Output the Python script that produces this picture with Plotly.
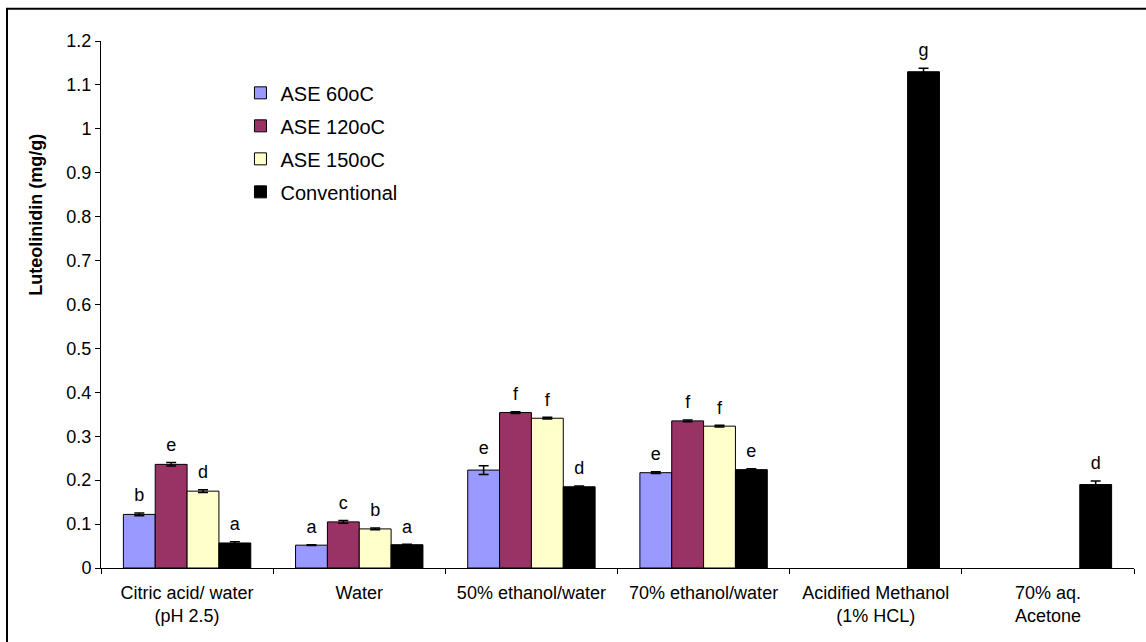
import plotly.graph_objects as go

categories = [
    "Citric acid/ water<br>(pH 2.5)",
    "Water",
    "50% ethanol/water",
    "70% ethanol/water",
    "Acidified Methanol<br>(1% HCL)",
    "70% aq.<br>Acetone",
]

series_names = ["ASE 60oC", "ASE 120oC", "ASE 150oC", "Conventional"]

ase60 = [0.122, 0.052, 0.223, 0.217, None, None]
ase120 = [0.236, 0.105, 0.354, 0.335, None, None]
ase150 = [0.175, 0.089, 0.341, 0.323, None, None]
conventional = [0.057, 0.053, 0.185, 0.224, 1.130, 0.190]

ase60_err = [0.003, 0.001, 0.010, 0.002, None, None]
ase120_err = [0.004, 0.003, 0.002, 0.002, None, None]
ase150_err = [0.003, 0.002, 0.002, 0.002, None, None]
conventional_err = [0.003, 0.001, 0.002, 0.002, 0.008, 0.008]

ase60_letters = ["b", "a", "e", "e", "", ""]
ase120_letters = ["e", "c", "f", "f", "", ""]
ase150_letters = ["d", "b", "f", "f", "", ""]
conventional_letters = ["a", "a", "d", "e", "g", "d"]

colors = ["#9999FF", "#993366", "#FFFFCC", "#000000"]

values = [ase60, ase120, ase150, conventional]
errors = [ase60_err, ase120_err, ase150_err, conventional_err]
letters = [ase60_letters, ase120_letters, ase150_letters, conventional_letters]

y_title = "Luteolinidin (mg/g)"

FONT = "Liberation Sans, Arial, sans-serif"

fig = go.Figure()

for i, name in enumerate(series_names):
    fig.add_trace(go.Bar(
        x=categories,
        y=values[i],
        name=name,
        offsetgroup=str(i),
        legendgroup=str(i),
        marker=dict(color=colors[i], line=dict(color="#000000", width=1)),
        error_y=dict(type="data", array=[e if e is not None else 0 for e in errors[i]],
                     color="#000000", thickness=1.5, width=5, visible=True),
    ))

# significance letters sitting above each error bar (hidden marker pads the text upward)
for i, name in enumerate(series_names):
    tops = [None if v is None else v + (e or 0) for v, e in zip(values[i], errors[i])]
    fig.add_trace(go.Scatter(
        x=categories,
        y=tops,
        text=letters[i],
        mode="markers+text",
        marker=dict(size=10, opacity=0),
        textposition="top center",
        textfont=dict(family=FONT, size=18, color="#000000"),
        offsetgroup=str(i),
        showlegend=False,
        hoverinfo="skip",
        cliponaxis=False,
    ))

fig.update_layout(
    width=1146,
    height=642,
    barmode="group",
    scattermode="group",
    bargap=0.26,
    bargroupgap=0,
    plot_bgcolor="#FFFFFF",
    paper_bgcolor="#FFFFFF",
    margin=dict(l=101, r=12, t=41, b=74),
    font=dict(family=FONT, size=18, color="#000000"),
    legend=dict(
        x=0.135, y=0.9386, xanchor="left", yanchor="top",
        font=dict(family=FONT, size=20, color="#000000"),
        tracegroupgap=4,
        bgcolor="rgba(0,0,0,0)",
    ),
    showlegend=True,
    xaxis=dict(
        type="category",
        showline=True, linecolor="#000000", linewidth=1,
        ticks="outside", tickson="boundaries", ticklen=5, tickcolor="#000000",
        ticklabelstandoff=8,
        showgrid=False,
        tickfont=dict(family=FONT, size=18),
    ),
    yaxis=dict(
        range=[0, 1.2],
        dtick=0.1,
        tickformat="~g",
        showline=True, linecolor="#000000", linewidth=1,
        ticks="outside", ticklen=5, tickcolor="#000000",
        showgrid=False, zeroline=False,
        tickfont=dict(family=FONT, size=18),
    ),
)

# rotated value-axis title, set in the upper part of the axis
fig.add_annotation(
    text="<b>" + y_title + "</b>", textangle=-90,
    xref="paper", yref="paper", x=-0.063, y=0.67,
    xanchor="center", yanchor="middle", showarrow=False,
    font=dict(family=FONT, size=18, color="#000000"),
)

# outer frame around the figure
fig.add_shape(type="rect", xref="paper", yref="paper",
              x0=-0.091, x1=1.05, y0=-0.2, y1=1.061,
              line=dict(color="#000000", width=2), fillcolor="rgba(0,0,0,0)", layer="below")

fig.write_html("out.html")
